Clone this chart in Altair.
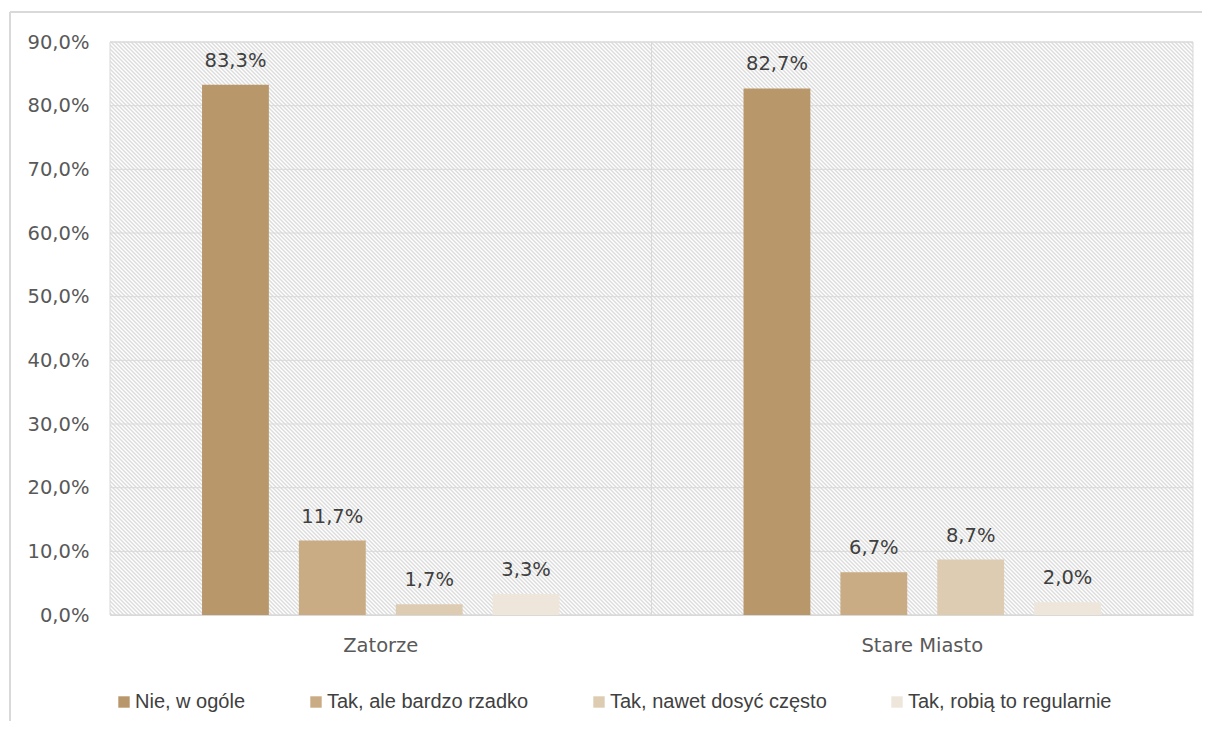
import math
import altair as alt
import pandas as pd

# ---- data ----
categories = ["Zatorze", "Stare Miasto"]
answers = ["Nie, w ogóle", "Tak, ale bardzo rzadko", "Tak, nawet dosyć często", "Tak, robią to regularnie"]
zatorze_vals = [83.3, 11.7, 1.7, 3.3]
stare_vals = [82.7, 6.7, 8.7, 2.0]
y_ticks = [0, 10, 20, 30, 40, 50, 60, 70, 80, 90]
colors = ["#B8976A", "#C9AB84", "#DDCCB2", "#EEE6DB"]

rows = []
for cat, vals in zip(categories, [zatorze_vals, stare_vals]):
    for a, v in zip(answers, vals):
        rows.append({"cat": cat, "answer": a, "value": v})
df = pd.DataFrame(rows)

W, H = 1083, 573
AX_FONT = "DejaVu Sans"
LEG_FONT = "Liberation Sans"

# ---- hatch background (style only) ----
r = H / W
dx = (1 + r) / (1 + r * r)
dy = -dx * r
L = (W + H) / math.sqrt(2)
period = 4 / math.sqrt(2)
n = int(L / period)
stops = []
for k in range(n):
    stops.append(alt.GradientStop(offset=k / n, color="#ffffff"))
    stops.append(alt.GradientStop(offset=(k + 0.5) / n, color="#dcdcdc"))
stops.append(alt.GradientStop(offset=1.0, color="#ffffff"))
grad = alt.LinearGradient(gradient="linear", stops=stops, x1=0, y1=1, x2=dx, y2=1 + dy)

one = pd.DataFrame({"a": [0]})
bg = alt.Chart(one).mark_rect(fill=grad, stroke="#d9d9d9", strokeWidth=1).encode(
    x=alt.value(0), x2=alt.value(W), y=alt.value(0), y2=alt.value(H)
)

yscale = alt.Scale(domain=[0, 90], nice=False)
xscale = alt.Scale(domain=categories, paddingInner=0, paddingOuter=0)

x_axis = alt.Axis(labelAngle=0, ticks=False, domain=True, domainColor="#d9d9d9",
                  labelFont=AX_FONT, labelFontSize=19.5, labelColor="#595959",
                  labelPadding=21, grid=False, zindex=1, title=None)
y_axis = alt.Axis(values=y_ticks, ticks=False, domain=False, grid=False,
                  labelExpr="replace(format(datum.value, '.1f'), '.', ',') + '%'",
                  labelFont=AX_FONT, labelFontSize=19.5, labelColor="#595959",
                  labelPadding=21, title=None)

grid = alt.Chart(pd.DataFrame({"value": y_ticks})).mark_rule(color="#d9d9d9", strokeWidth=1).encode(
    y=alt.Y("value:Q", scale=yscale, axis=y_axis, title=None)
)

sep = alt.Chart(pd.DataFrame({"cat": categories[1:]})).mark_rule(color="#d9d9d9", strokeWidth=1).encode(
    x=alt.X("cat:N", bandPosition=0, scale=xscale, sort=categories, axis=x_axis, title=None),
    y=alt.value(0), y2=alt.value(H)
)

base = alt.Chart(df).encode(
    x=alt.X("cat:N", scale=xscale, sort=categories, title=None, axis=x_axis),
    xOffset=alt.XOffset("answer:N", sort=answers,
                        scale=alt.Scale(domain=answers, paddingInner=0.31, paddingOuter=0.95)),
)

bars = base.mark_bar().encode(
    y=alt.Y("value:Q", scale=yscale, title=None, axis=y_axis),
    color=alt.Color("answer:N", sort=answers, scale=alt.Scale(domain=answers, range=colors),
                    legend=alt.Legend(title=None, orient="none", direction="horizontal",
                                      legendX=4, legendY=650, symbolType="square",
                                      symbolSize=130, symbolStrokeWidth=0,
                                      labelFont=LEG_FONT, labelFontSize=20, labelLimit=0,
                                      labelColor="#404040", columnPadding=60,
                                      labelOffset=1)),
)

labels = base.transform_calculate(
    label="replace(format(datum.value, '.1f'), '.', ',') + '%'"
).mark_text(baseline="bottom", dy=-14, font=AX_FONT, fontSize=19.5, color="#404040").encode(
    y=alt.Y("value:Q", scale=yscale, axis=y_axis, title=None),
    text="label:N",
)

frame_top = alt.Chart(one).mark_rule(color="#d9d9d9", strokeWidth=2).encode(
    x=alt.value(-100), x2=alt.value(W + 200), y=alt.value(-30)
)
frame_left = alt.Chart(one).mark_rule(color="#d9d9d9", strokeWidth=2).encode(
    x=alt.value(-100), y=alt.value(-30), y2=alt.value(H + 200)
)

chart = alt.layer(bg, grid, sep, bars, labels, frame_top, frame_left).properties(
    width=W, height=H,
    autosize=alt.AutoSizeParams(type="none"),
    padding={"left": 102, "top": 34, "right": 9, "bottom": 106},
).configure_view(stroke=None)

chart.save("out.html", embed_options={"renderer": "svg", "actions": False})
